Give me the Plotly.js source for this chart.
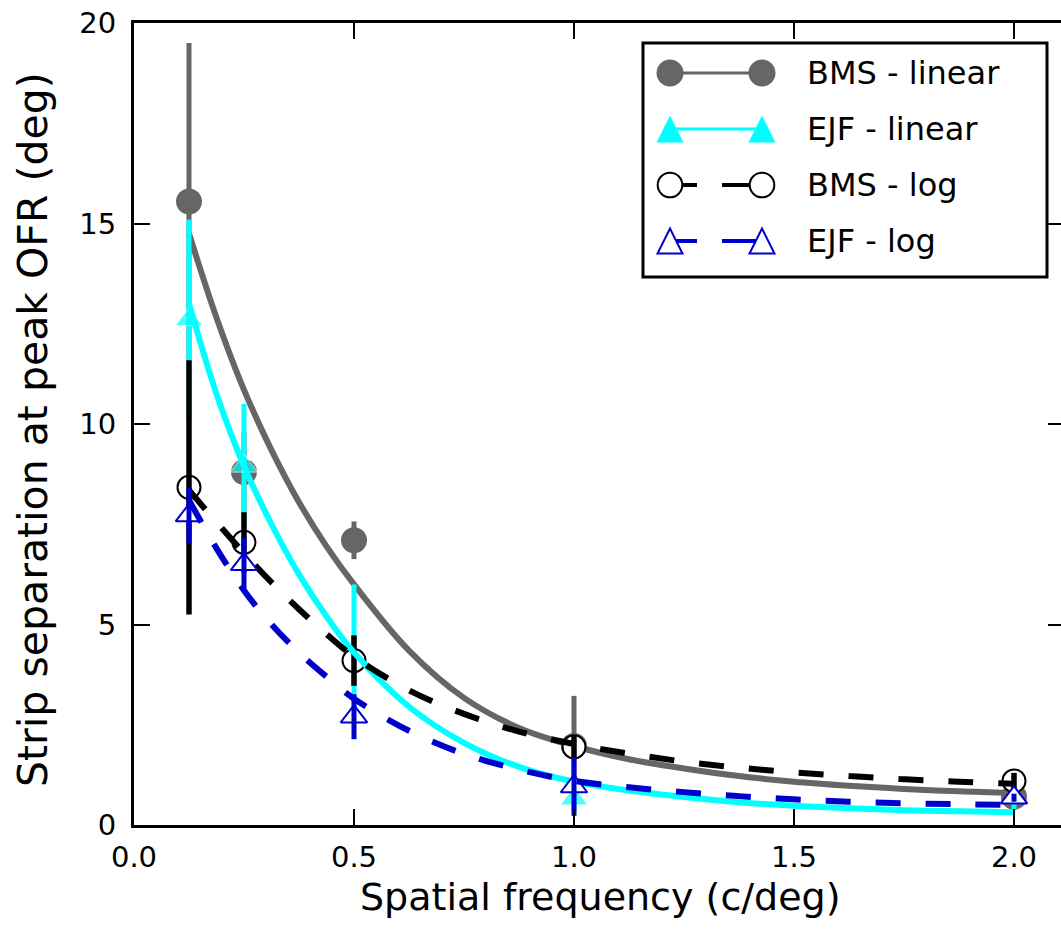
<!DOCTYPE html>
<html>
<head>
<meta charset="utf-8">
<script src="https://cdn.plot.ly/plotly-3.0.1.min.js"></script>
<style>
html, body { margin: 0; padding: 0; overflow: hidden; background: #ffffff; }
#chart { width: 1064px; height: 934px; }
</style>
</head>
<body>
<div id="chart"></div>
<script>
// ---------------- data ----------------
const freq = [0.125, 0.25, 0.5, 1.0, 2.0];

const bmsLinear    = [15.55, 8.8, 7.1, 1.97, 0.7];
const bmsLinearErr = [3.95, 1.0, 0.47, 1.25, 0.2];

const ejfLinear    = [12.6, 8.95, 4.57, 0.65, 0.5];
const ejfLinearErr = [2.5, 1.55, 1.43, 0.3, 0.1];

const bmsLog       = [8.42, 7.05, 4.1, 1.95, 1.1];
const bmsLogErr    = [3.17, 0.75, 0.63, 0.27, 0.2];

const ejfLog       = [7.72, 6.5, 2.7, 0.96, 0.68];
const ejfLogErr    = [0.7, 0.66, 0.56, 0.73, 0.1];

// fitted curves, read at these frequencies
const fitFreq      = [0.125, 0.1875, 0.25, 0.3125, 0.375, 0.4375, 0.5, 0.625, 0.75, 0.875, 1.0,
                      1.125, 1.25, 1.375, 1.5, 1.625, 1.75, 1.875, 2.0];
const bmsLinearFit = [14.75, 12.65, 10.85, 9.35, 8.05, 6.95, 6.0, 4.35, 3.17, 2.42, 1.97,
                      1.64, 1.41, 1.22, 1.08, 0.98, 0.9, 0.84, 0.8];
const ejfLinearFit = [13.0, 10.75, 8.95, 7.5, 6.25, 5.2, 4.3, 2.95, 2.05, 1.45, 1.08,
                      0.86, 0.7, 0.57, 0.48, 0.42, 0.37, 0.34, 0.32];
const bmsLogFit    = [8.35, 7.55, 6.78, 6.05, 5.38, 4.76, 4.2, 3.36, 2.77, 2.33, 2.02,
                      1.78, 1.58, 1.43, 1.31, 1.22, 1.14, 1.08, 1.03];
const ejfLogFit    = [8.1, 6.9, 5.85, 5.0, 4.3, 3.7, 3.15, 2.35, 1.77, 1.38, 1.1,
                      0.94, 0.82, 0.72, 0.64, 0.58, 0.54, 0.52, 0.5];

const seriesNames  = ['BMS - linear', 'EJF - linear', 'BMS - log', 'EJF - log'];
const xTickVals    = [0, 0.5, 1.0, 1.5, 2.0];
const xTickText    = ['0.0', '0.5', '1.0', '1.5', '2.0'];
const yTickVals    = [0, 5, 10, 15, 20];
const xTitle       = 'Spatial frequency (c/deg)';
const yTitle       = 'Strip separation at peak OFR (deg)';

// ---------------- styles / layout ----------------
const GRAY = '#666666', CYAN = '#00ffff', BLACK = '#000000', BLUE = '#0000cc';
const FONT = 'DejaVu Sans, Liberation Sans, Arial, sans-serif';

const W = 1064, H = 934, ML = 134, MR = 0, MT = 23, MB = 109;
const PW = W - ML - MR, PH = H - MT - MB;
const PX_PER_X = 440;                // pixels per unit of spatial frequency
const px = v => (v - ML) / PW;       // page pixel -> paper x
const py = v => (H - MB - v) / PH;   // page pixel -> paper y

const hidden = {size: 1, color: 'rgba(0,0,0,0)'};
const errStyle = (arr, color, thick) => ({type: 'data', array: arr, visible: true, width: 0, thickness: thick, color: color});
const DASH = '25px,25px';

const traces = [
  // BMS linear fit + points
  {x: fitFreq, y: bmsLinearFit, mode: 'lines', line: {color: GRAY, width: 6, shape: 'spline'}},
  {x: freq, y: bmsLinear, mode: 'markers', marker: {symbol: 'circle', size: 26, color: GRAY},
   error_y: errStyle(bmsLinearErr, GRAY, 5)},
  // EJF linear points
  {x: freq, y: ejfLinear, mode: 'markers',
   marker: {symbol: 'triangle-up', size: [24, 24, 0, 24, 0], color: CYAN},
   error_y: errStyle(ejfLinearErr, CYAN, 5)},
  // BMS log points (open circles) and their bars on top
  {x: freq, y: bmsLog, mode: 'markers',
   marker: {symbol: 'circle', size: 23, color: '#ffffff', line: {color: BLACK, width: 2}}},
  {x: freq, y: bmsLog, mode: 'markers', marker: hidden, error_y: errStyle(bmsLogErr, BLACK, 5.5)},
  // EJF linear fit, BMS log fit
  {x: fitFreq, y: ejfLinearFit, mode: 'lines', line: {color: CYAN, width: 6, shape: 'spline'}},
  {x: fitFreq, y: bmsLogFit, mode: 'lines', line: {color: BLACK, width: 6, shape: 'spline', dash: DASH}},
  // EJF log points (open triangles), bars, fit
  {x: freq, y: ejfLog, mode: 'markers',
   marker: {symbol: 'triangle-up', size: 23, color: '#ffffff', line: {color: BLUE, width: 2}}},
  {x: freq, y: ejfLog, mode: 'markers', marker: hidden, error_y: errStyle(ejfLogErr, BLUE, 5)},
  {x: fitFreq, y: ejfLogFit, mode: 'lines', line: {color: BLUE, width: 6, shape: 'spline', dash: DASH}}
];
traces.forEach(t => { t.showlegend = false; t.hoverinfo = 'skip'; t.cliponaxis = true; });

// ---------------- hand-drawn legend (matplotlib style: marker - line - marker) ----------------
const legBox = {x0: 643, x1: 1047, y0: 43, y1: 277};
const legRowY = [73, 129, 185, 241];
const legMarkX = [670, 762];
const legTextX = 805;

const shapes = [{type: 'rect', xref: 'paper', yref: 'paper', layer: 'above',
  x0: px(legBox.x0), x1: px(legBox.x1), y0: py(legBox.y1), y1: py(legBox.y0),
  fillcolor: '#ffffff', line: {color: BLACK, width: 3}}];

function hline(xa, xb, yc, color, w) {
  return {type: 'line', xref: 'paper', yref: 'paper', layer: 'above',
    x0: px(xa), x1: px(xb), y0: py(yc), y1: py(yc), line: {color: color, width: w}};
}
function circ(cx, cy, r, fill, lc, lw) {
  return {type: 'circle', xref: 'paper', yref: 'paper', layer: 'above',
    xsizemode: 'pixel', ysizemode: 'pixel', xanchor: px(cx), yanchor: py(cy),
    x0: -r, x1: r, y0: -r, y1: r, fillcolor: fill, line: {color: lc, width: lw}};
}
function tri(cx, cy, r, fill, lc, lw) {
  return {type: 'path', xref: 'paper', yref: 'paper', layer: 'above',
    xsizemode: 'pixel', ysizemode: 'pixel', xanchor: px(cx), yanchor: py(cy),
    path: 'M ' + (-r) + ' ' + (-r) + ' L ' + r + ' ' + (-r) + ' L 0 ' + r + ' Z',
    fillcolor: fill, line: {color: lc, width: lw}};
}
// row 1: BMS linear
shapes.push(hline(legMarkX[0], legMarkX[1], legRowY[0], GRAY, 3));
legMarkX.forEach(x => shapes.push(circ(x, legRowY[0], 13.5, GRAY, GRAY, 0)));
// row 2: EJF linear
shapes.push(hline(legMarkX[0], legMarkX[1], legRowY[1], CYAN, 3));
legMarkX.forEach(x => shapes.push(tri(x, legRowY[1], 13.5, CYAN, CYAN, 0)));
// row 3: BMS log
shapes.push(hline(legMarkX[0], 697, legRowY[2], BLACK, 4));
shapes.push(hline(722, legMarkX[1], legRowY[2], BLACK, 4));
legMarkX.forEach(x => shapes.push(circ(x, legRowY[2], 12.3, '#ffffff', BLACK, 2)));
// row 4: EJF log
shapes.push(hline(legMarkX[0], 697, legRowY[3], BLUE, 4));
shapes.push(hline(722, legMarkX[1], legRowY[3], BLUE, 4));
legMarkX.forEach(x => shapes.push(tri(x, legRowY[3], 12.5, '#ffffff', BLUE, 2)));

const annotations = seriesNames.map((name, i) => ({
  xref: 'paper', yref: 'paper', x: px(legTextX), y: py(legRowY[i]),
  xanchor: 'left', yanchor: 'middle', showarrow: false, text: name,
  font: {family: FONT, size: 32, color: BLACK}
}));
// axis titles, placed as in the reference
annotations.push({
  xref: 'paper', yref: 'paper', x: px(600), y: py(897),
  xanchor: 'center', yanchor: 'middle', showarrow: false, text: xTitle,
  font: {family: FONT, size: 38, color: BLACK}
});
annotations.push({
  xref: 'paper', yref: 'paper', x: px(33), y: py(430), textangle: -90,
  xanchor: 'center', yanchor: 'middle', showarrow: false, text: yTitle,
  font: {family: FONT, size: 41, color: BLACK}
});

const axisCommon = {
  showgrid: false, zeroline: false, showline: true, linecolor: BLACK, linewidth: 3,
  mirror: 'ticks', ticks: 'inside', ticklen: 16, tickwidth: 2, tickcolor: BLACK,
  tickfont: {family: FONT, size: 29, color: BLACK}, fixedrange: true
};

const layout = {
  width: W, height: H,
  margin: {l: ML, r: MR, t: MT, b: MB, pad: 0},
  paper_bgcolor: '#ffffff', plot_bgcolor: '#ffffff',
  font: {family: FONT, color: BLACK},
  showlegend: false, hovermode: false,
  xaxis: Object.assign({}, axisCommon, {
    range: [0, PW / PX_PER_X], tickmode: 'array', tickvals: xTickVals, ticktext: xTickText,
    ticklabelstandoff: 4
  }),
  yaxis: Object.assign({}, axisCommon, {
    range: [0, 20], tickmode: 'array', tickvals: yTickVals,
    ticklabelstandoff: 9
  }),
  shapes: shapes,
  annotations: annotations
};

Plotly.newPlot('chart', traces, layout, {staticPlot: true, displayModeBar: false});
</script>
</body>
</html>
